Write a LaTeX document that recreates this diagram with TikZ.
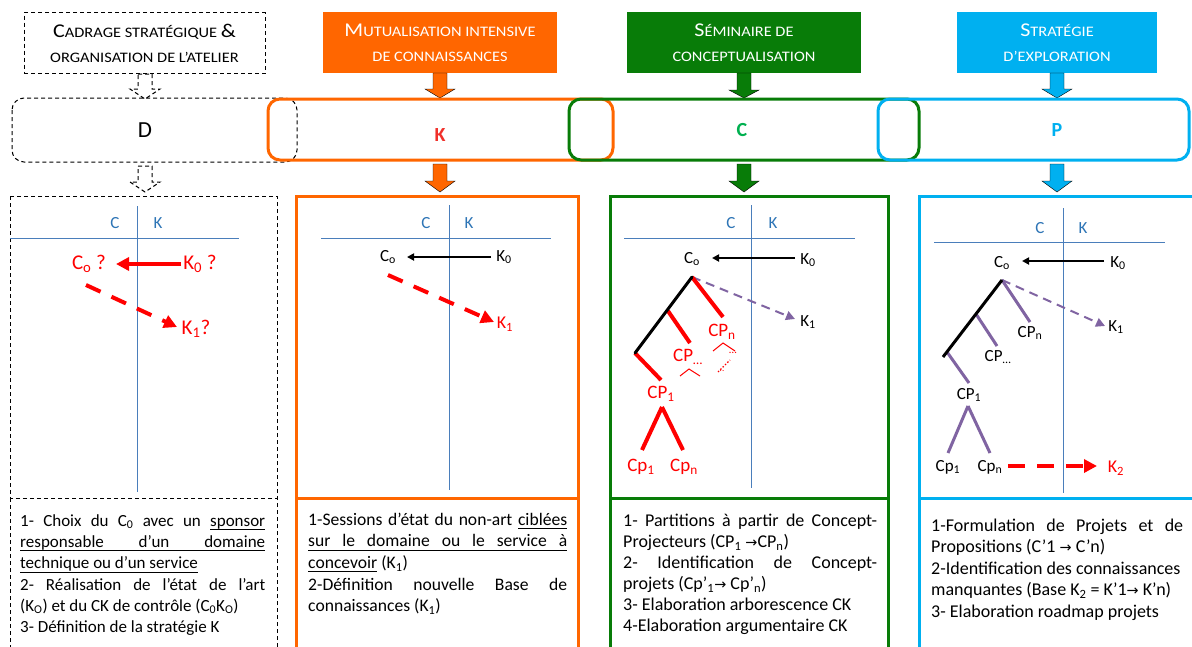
\documentclass[tikz,border=0pt]{standalone}
\usepackage{fontspec}
\setmainfont{Carlito}
\newfontfamily\scf[FakeStretch=1.13]{Carlito}
\newfontfamily\symf[Scale=0.8]{DejaVu Sans}
\usetikzlibrary{arrows.meta}
\definecolor{cOrange}{HTML}{FF6600}
\definecolor{cGreen}{HTML}{087C08}
\definecolor{cLGreen}{HTML}{00B050}
\definecolor{cBlue}{HTML}{00B0F0}
\definecolor{cAxis}{HTML}{2E75B6}
\definecolor{cLine}{HTML}{4A7EBB}
\definecolor{cRed}{HTML}{FF0000}
\definecolor{cKred}{HTML}{F0302A}
\definecolor{cPurple}{HTML}{8064A2}
\newcommand{\fs}[1]{\fontsize{#1}{#1}\selectfont}
\newcommand{\hsz}[1]{\fontsize{#1}{25}\selectfont}
\newcommand{\smc}[2]{{\scf\hsz{19.5}#1}{\scf\hsz{14.5}#2}}
\newcommand{\arr}{{\symf →}}
\newcommand{\myul}[1]{\setbox0\hbox{#1}\rlap{\rule[-3.5pt]{\wd0}{0.7pt}}\box0\relax}
\newcommand{\fullul}{\leavevmode\rlap{\rule[-3.5pt]{\linewidth}{0.7pt}}}
\newcommand{\fatarrow}[5]{%
  \draw[#1] (#2-7,#3) -- (#2+7,#3) -- (#2+7,#4) -- (#2+15,#4) -- (#2,#5) -- (#2-15,#4) -- (#2-7,#4) -- cycle;}
\begin{document}
\begin{tikzpicture}[x=1pt,y=-1pt,
  every node/.style={inner sep=1pt},
  hdr/.style={minimum height=61, text=white, align=center, inner sep=0, font=\scf\hsz{14.5}},
  axis/.style={draw=cLine, line width=1},
  axlab/.style={text=cAxis, font=\fs{17}},
  blk/.style={font=\fs{17}},
  redbig/.style={text=cRed, font=\fs{21}},
  redlab/.style={text=cRed, font=\fs{19}},
  blkarr/.style={line width=2, -{Triangle[length=7pt,width=7pt]}},
  redarr/.style={draw=cRed, line width=4, -{Triangle[length=13pt,width=13pt]}},
  reddash/.style={draw=cRed, line width=4, dash pattern=on 16pt off 12pt, -{Triangle[length=13pt,width=13pt]}},
  purdash/.style={draw=cPurple, line width=2, dash pattern=on 9pt off 6pt, -{Triangle[length=9pt,width=9pt]}},
  redtree/.style={draw=cRed, line width=4},
  purtree/.style={draw=cPurple, line width=3},
  blktree/.style={draw=black, line width=3},
  dashbox/.style={draw=black, line width=1, dash pattern=on 4pt off 3pt},
  txt/.style={anchor=north west, inner sep=0, font=\fontsize{17}{21.3}\selectfont}
]
\useasboundingbox (0,0) rectangle (1192,646);
\clip (0,0) rectangle (1192,646);
\fill[white] (0,0) rectangle (1192,646);

% ---------- headers ----------
\node[hdr, dashbox, text=black, minimum width=241] (hD) at (144.5,43) {\smc{C}{ADRAGE STRATÉGIQUE} {\hsz{19.5}\&}\\ORGANISATION DE L’ATELIER};
\node[hdr, fill=cOrange, minimum width=234] (hK) at (440,42.5) {\smc{M}{UTUALISATION INTENSIVE}\\DE CONNAISSANCES};
\node[hdr, fill=cGreen, minimum width=234] (hC) at (744,42.5) {\smc{S}{ÉMINAIRE DE}\\CONCEPTUALISATION};
\node[hdr, fill=cBlue, minimum width=200] (hP) at (1057,42.5) {\smc{S}{TRATÉGIE}\\D’EXPLORATION};

% ---------- arrows top ----------
\fatarrow{dashbox}{145}{74}{89}{99}
\fatarrow{fill=cOrange}{440}{73}{89}{98}
\fatarrow{fill=cGreen}{744}{73}{90}{98}
\fatarrow{fill=cBlue}{1057}{73}{89}{98}

% ---------- D K C P boxes ----------
\draw[dashbox, rounded corners=12] (12,98) rectangle (297,162);
\draw[draw=cOrange, line width=3, rounded corners=12] (268,99) rectangle (613,160);
\draw[draw=cGreen, line width=3, rounded corners=12] (569,99) rectangle (919,160);
\draw[draw=cBlue, line width=3, rounded corners=12] (878,99) rectangle (1189,160);
\node[font=\fs{23}] (lD) at (145,130) {D};
\node[font=\bfseries\fs{20}, text=cKred] (lK) at (440,135) {K};
\node[font=\bfseries\fs{20}, text=cLGreen] (lC) at (742,130) {C};
\node[font=\bfseries\fs{20}, text=cBlue] (lP) at (1057,130) {P};

% ---------- arrows bottom ----------
\fatarrow{dashbox}{145}{166}{182}{192}
\fatarrow{fill=cOrange}{440}{164}{181}{192}
\fatarrow{fill=cGreen}{744}{164}{181}{192}
\fatarrow{fill=cBlue}{1057}{164}{181}{192}

% ---------- column boxes ----------
\draw[dashbox] (10,196) rectangle (277,498);
\draw[dashbox] (10,498) rectangle (277,670);
\draw[draw=cOrange, line width=3] (296,196) rectangle (578,498);
\draw[draw=cOrange, line width=3] (296,498) rectangle (578,670);
\draw[draw=cGreen, line width=3] (610,196) rectangle (888,498);
\draw[draw=cGreen, line width=3] (610,498) rectangle (888,670);
\draw[draw=cBlue, line width=3] (919,196) rectangle (1200,498);
\draw[draw=cBlue, line width=3] (919,498) rectangle (1200,670);

% ---------- column 1 diagram ----------
\node[axlab] (c1C) at (115,223) {C};
\node[axlab] (c1K) at (158,223) {K};
\coordinate (c1hl) at (10,238); \coordinate (c1hr) at (239,238);
\coordinate (c1vt) at (137,206); \coordinate (c1vb) at (137,492);
\draw[axis] (c1hl) -- (c1hr);
\draw[axis] (c1vt) -- (c1vb);
\node[redbig] (c1C0) at (89,264) {C\textsubscript{o} ?};
\node[redbig] (c1K0) at (200,264) {K\textsubscript{0} ?};
\node[redbig] (c1K1) at (196,329) {K\textsubscript{1}?};
\coordinate (c1a0) at (181,264); \coordinate (c1a1) at (116,264);
\draw[redarr] (c1a0) -- (c1a1);
\coordinate (c1d0) at (86,285); \coordinate (c1d1) at (177,327);
\draw[reddash] (c1d0) -- (c1d1);

% ---------- column 2 diagram ----------
\node[axlab] (c2C) at (426,223) {C};
\node[axlab] (c2K) at (469,223) {K};
\coordinate (c2hl) at (321,238); \coordinate (c2hr) at (551,238);
\coordinate (c2vt) at (449,205); \coordinate (c2vb) at (449,490);
\draw[axis] (c2hl) -- (c2hr);
\draw[axis] (c2vt) -- (c2vb);
\node[blk] (c2C0) at (388,257) {C\textsubscript{o}};
\node[blk] (c2K0) at (504,257) {K\textsubscript{0}};
\node[redlab, font=\fs{18}] (c2K1) at (505,324) {K\textsubscript{1}};
\coordinate (c2a0) at (491,257); \coordinate (c2a1) at (407,257);
\draw[blkarr] (c2a0) -- (c2a1);
\coordinate (c2d0) at (388,275); \coordinate (c2d1) at (494,322);
\draw[reddash] (c2d0) -- (c2d1);

% ---------- column 3 diagram ----------
\node[axlab] (c3C) at (731,223) {C};
\node[axlab] (c3K) at (773,223) {K};
\coordinate (c3hl) at (624,238); \coordinate (c3hr) at (855,238);
\coordinate (c3vt) at (751,205); \coordinate (c3vb) at (751,488);
\draw[axis] (c3hl) -- (c3hr);
\draw[axis] (c3vt) -- (c3vb);
\node[blk] (c3C0) at (692,259) {C\textsubscript{o}};
\node[blk] (c3K0) at (808,260) {K\textsubscript{0}};
\node[blk] (c3K1) at (808,322) {K\textsubscript{1}};
\coordinate (c3a0) at (795,258); \coordinate (c3a1) at (712,258);
\draw[blkarr] (c3a0) -- (c3a1);
\coordinate (c3r) at (692,277);
\coordinate (c3d1) at (795,319);
\draw[purdash] (c3r) -- (c3d1);
\coordinate (c3t1) at (668,311); \coordinate (c3t2) at (635,353);
\coordinate (c3b1) at (723,317); \coordinate (c3b2) at (690,343); \coordinate (c3b3) at (661,380);
\draw[redtree] (c3r) -- (c3b1);
\draw[redtree] (c3t1) -- (c3b2);
\draw[redtree] (c3t2) -- (c3b3);
\draw[blktree, line cap=round] (c3r) -- (c3t2);
\node[redlab] (c3CPn) at (722,332) {CP\textsubscript{n}};
\node[redlab] (c3CPd) at (688,357) {CP\textsubscript{…}};
\node[redlab] (c3CP1) at (661,394) {CP\textsubscript{1}};
\coordinate (c3s0) at (662,407); \coordinate (c3s1) at (642,450); \coordinate (c3s2) at (683,450);
\draw[redtree] (c3s0) -- (c3s1);
\draw[redtree] (c3s0) -- (c3s2);
\node[redlab] (c3Cp1) at (641,467) {Cp\textsubscript{1}};
\node[redlab] (c3Cpn) at (684,467) {Cp\textsubscript{n}};
% small red marks
\coordinate (c3m1) at (713,351); \coordinate (c3m2) at (723,343); \coordinate (c3m3) at (735,351);
\draw[draw=cRed, line width=1] (c3m1) -- (c3m2) -- (c3m3);
\coordinate (c3m4) at (680,376); \coordinate (c3m5) at (689,369); \coordinate (c3m6) at (700,376);
\draw[draw=cRed, line width=1] (c3m4) -- (c3m5) -- (c3m6);
\node[text=cRed, font=\fs{11}] (c3dots) at (733,353) {…};
\coordinate (c3m7) at (718,372); \coordinate (c3m8) at (730,360);
\draw[draw=cRed, line width=1.2, dash pattern=on 1.5pt off 1.8pt] (c3m7) -- (c3m8);
\node[text=cRed, font=\fs{9}] (c3dots2) at (722,371) {..};

% ---------- column 4 diagram ----------
\node[axlab] (c4C) at (1040,228) {C};
\node[axlab] (c4K) at (1083,228) {K};
\coordinate (c4hl) at (934,242); \coordinate (c4hr) at (1165,242);
\coordinate (c4vt) at (1063,208); \coordinate (c4vb) at (1063,493);
\draw[axis] (c4hl) -- (c4hr);
\draw[axis] (c4vt) -- (c4vb);
\node[blk] (c4C0) at (1002,263) {C\textsubscript{o}};
\node[blk] (c4K0) at (1118,263) {K\textsubscript{0}};
\node[blk] (c4K1) at (1116,327) {K\textsubscript{1}};
\coordinate (c4a0) at (1104,261); \coordinate (c4a1) at (1022,261);
\draw[blkarr] (c4a0) -- (c4a1);
\coordinate (c4r) at (1002,280);
\coordinate (c4d1) at (1105,326);
\draw[purdash] (c4r) -- (c4d1);
\coordinate (c4t1) at (976,314); \coordinate (c4t2) at (943,357);
\coordinate (c4b1) at (1030,322); \coordinate (c4b2) at (997,346); \coordinate (c4b3) at (969,383);
\draw[purtree] (c4r) -- (c4b1);
\draw[purtree] (c4t1) -- (c4b2);
\coordinate (c4t3) at (947,352);
\draw[purtree] (c4t3) -- (c4b3);
\draw[blktree] (c4r) -- (c4t2);
\node[blk] (c4CPn) at (1030,333) {CP\textsubscript{n}};
\node[blk] (c4CPd) at (998,357) {CP\textsubscript{…}};
\node[blk] (c4CP1) at (969,395) {CP\textsubscript{1}};
\coordinate (c4s0) at (968,406); \coordinate (c4s1) at (948,453); \coordinate (c4s2) at (990,453);
\draw[purtree] (c4s0) -- (c4s1);
\draw[purtree] (c4s0) -- (c4s2);
\node[blk] (c4Cp1) at (948,467) {Cp\textsubscript{1}};
\node[blk] (c4Cpn) at (990,467) {Cp\textsubscript{n}};
\node[redlab, font=\fs{18}] (c4K2) at (1116,468) {K\textsubscript{2}};
\coordinate (c4e0) at (1008,466); \coordinate (c4e1) at (1097,466);
\draw[reddash, dash pattern=on 17pt off 12pt] (c4e0) -- (c4e1);

% ---------- bottom texts ----------
\node[txt] (t1) at (20,511) {\parbox[t]{245pt}{\strut 1- Choix du C\textsubscript{0} avec un \myul{sponsor}\linebreak
\fullul responsable d’un domaine\linebreak
\myul{technique ou d’un service}\\
2- Réalisation de l’état de l’art\linebreak
(K\textsubscript{O}) et du CK de contrôle (C\textsubscript{0}K\textsubscript{O})\\
3- Définition de la stratégie K}};
\node[txt, font=\fontsize{17.6}{21.6}\selectfont] (t2) at (308,510) {\parbox[t]{259pt}{\strut 1-Sessions d’état du non-art \myul{ciblées}\linebreak
\fullul sur le domaine ou le service à\linebreak
\myul{concevoir} (K\textsubscript{1})\\
2-Définition nouvelle Base de\linebreak
connaissances (K\textsubscript{1})}};
\node[txt, font=\fontsize{18}{21}\selectfont] (t3) at (623,512) {\parbox[t]{254pt}{\strut 1- Partitions à partir de Concept-\linebreak
Projecteurs (CP\textsubscript{1} \arr CP\textsubscript{n})\\
2- Identification de Concept-\linebreak
projets (Cp’\textsubscript{1}\arr\ Cp’\textsubscript{n})\\
3- Elaboration arborescence CK\\
4-Elaboration argumentaire CK}};
\node[txt, font=\fontsize{18}{21.5}\selectfont] (t4) at (931,516) {\parbox[t]{252pt}{\strut 1-Formulation de Projets et de\linebreak
Propositions (C’1 \arr\ C’n)\\
2-Identification des connaissances\\
manquantes (Base K\textsubscript{2} = K’1\arr\ K’n)\\
3- Elaboration roadmap projets}};
\end{tikzpicture}
\end{document}
